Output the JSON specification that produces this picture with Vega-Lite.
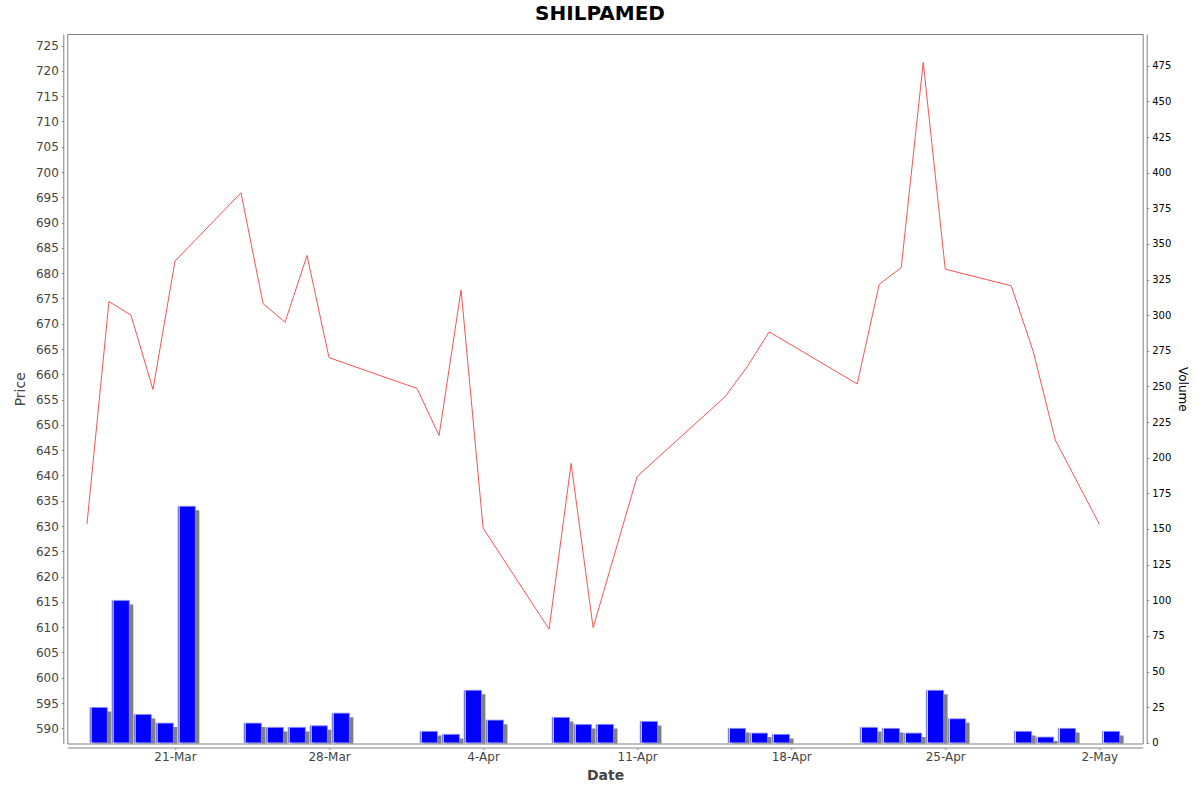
{
  "$schema": "https://vega.github.io/schema/vega-lite/v6.json",
  "autosize": {"type": "none"},
  "padding": {"left": 67.3, "top": 34, "right": 57.3, "bottom": 48.5},
  "width": 1075.4,
  "height": 709.5,
  "background": "white",
  "title": {
    "text": "SHILPAMED",
    "font": "DejaVu Sans",
    "fontSize": 20,
    "fontWeight": "bold",
    "color": "#000000",
    "anchor": "middle",
    "offset": 10,
    "dx": -5
  },
  "config": {
    "font": "DejaVu Sans",
    "view": {"stroke": "#808080", "strokeWidth": 1},
    "axis": {
      "grid": false,
      "domainColor": "#808080",
      "tickColor": "#808080",
      "tickSize": 2,
      "offset": 4,
      "labelFont": "DejaVu Sans",
      "titleFont": "DejaVu Sans"
    }
  },
  "data": {
    "values": [
      {"date": "2021-03-17T00:00:00", "price": 630.4, "volume": 24.8},
      {"date": "2021-03-18T00:00:00", "price": 674.4, "volume": 99.9},
      {"date": "2021-03-19T00:00:00", "price": 671.7, "volume": 19.9},
      {"date": "2021-03-20T00:00:00", "price": 657.0, "volume": 13.8},
      {"date": "2021-03-21T00:00:00", "price": 682.4, "volume": 165.9},
      {"date": "2021-03-24T00:00:00", "price": 695.9, "volume": 13.8},
      {"date": "2021-03-25T00:00:00", "price": 674.0, "volume": 10.8},
      {"date": "2021-03-26T00:00:00", "price": 670.3, "volume": 10.8},
      {"date": "2021-03-27T00:00:00", "price": 683.5, "volume": 11.9},
      {"date": "2021-03-28T00:00:00", "price": 663.3, "volume": 20.8},
      {"date": "2021-04-01T00:00:00", "price": 657.2, "volume": 8.0},
      {"date": "2021-04-02T00:00:00", "price": 647.9, "volume": 5.9},
      {"date": "2021-04-03T00:00:00", "price": 676.7, "volume": 36.8},
      {"date": "2021-04-04T00:00:00", "price": 629.6, "volume": 15.9},
      {"date": "2021-04-07T00:00:00", "price": 609.6, "volume": 17.8},
      {"date": "2021-04-08T00:00:00", "price": 642.4, "volume": 12.9},
      {"date": "2021-04-09T00:00:00", "price": 609.9, "volume": 12.9},
      {"date": "2021-04-11T00:00:00", "price": 639.8, "volume": 15.0},
      {"date": "2021-04-15T00:00:00", "price": 655.6, "volume": 10.1},
      {"date": "2021-04-16T00:00:00", "price": 661.5, "volume": 6.8},
      {"date": "2021-04-17T00:00:00", "price": 668.4, "volume": 5.9},
      {"date": "2021-04-21T00:00:00", "price": 658.1, "volume": 10.8},
      {"date": "2021-04-22T00:00:00", "price": 677.8, "volume": 10.1},
      {"date": "2021-04-23T00:00:00", "price": 681.1, "volume": 6.8},
      {"date": "2021-04-24T00:00:00", "price": 721.7, "volume": 36.8},
      {"date": "2021-04-25T00:00:00", "price": 680.8, "volume": 16.8},
      {"date": "2021-04-28T00:00:00", "price": 677.5, "volume": 8.0},
      {"date": "2021-04-29T00:00:00", "price": 664.5, "volume": 4.0},
      {"date": "2021-04-30T00:00:00", "price": 647.0, "volume": 10.1},
      {"date": "2021-05-02T00:00:00", "price": 630.4, "volume": 8.0}
    ]
  },
  "encoding": {
    "x": {
      "field": "date",
      "type": "temporal",
      "scale": {
        "domain": [
          {"year": 2021, "month": 3, "date": 16, "hours": 2, "minutes": 33},
          {"year": 2021, "month": 5, "date": 3, "hours": 23, "minutes": 20}
        ],
        "nice": false,
        "padding": 0
      },
      "axis": {
        "title": "Date",
        "format": "%-d-%b",
        "values": [
          {"year": 2021, "month": 3, "date": 21},
          {"year": 2021, "month": 3, "date": 28},
          {"year": 2021, "month": 4, "date": 4},
          {"year": 2021, "month": 4, "date": 11},
          {"year": 2021, "month": 4, "date": 18},
          {"year": 2021, "month": 4, "date": 25},
          {"year": 2021, "month": 5, "date": 2}
        ],
        "labelFontSize": 12,
        "labelColor": "#444444",
        "labelPadding": 2,
        "titleFontSize": 14,
        "titleFontWeight": "bold",
        "titleColor": "#444444",
        "titlePadding": 6
      }
    }
  },
  "layer": [
    {
      "encoding": {
        "y": {
          "field": "volume",
          "type": "quantitative",
          "scale": {"domain": [-0.5, 497.3], "nice": false, "zero": false},
          "axis": {
            "orient": "right",
            "title": "Volume",
            "values": [0, 25, 50, 75, 100, 125, 150, 175, 200, 225, 250, 275, 300, 325, 350, 375, 400, 425, 450, 475],
            "labelFontSize": 10,
            "labelColor": "#000000",
            "labelPadding": 3,
            "titleFontSize": 12,
            "titleFontWeight": "normal",
            "titleColor": "#000000",
            "titlePadding": 5
          }
        }
      },
      "layer": [
        {
          "mark": {"type": "bar", "width": 17.3, "xOffset": 15.7, "yOffset": 4, "clip": true, "color": "#808080"}
        },
        {
          "mark": {"type": "bar", "width": 17.3, "xOffset": 11.7, "color": "#0000ff", "stroke": "#8c8cff", "strokeWidth": 0.8}
        },
        {
          "mark": {"type": "rule", "xOffset": 4.2, "color": "#ffffff", "strokeWidth": 0.9},
          "encoding": {"y2": {"datum": 0}}
        }
      ]
    },
    {
      "mark": {"type": "line", "color": "#ff5050", "strokeWidth": 1},
      "encoding": {
        "y": {
          "field": "price",
          "type": "quantitative",
          "scale": {"domain": [587.0, 727.3], "nice": false, "zero": false},
          "axis": {
            "orient": "left",
            "title": "Price",
            "values": [590, 595, 600, 605, 610, 615, 620, 625, 630, 635, 640, 645, 650, 655, 660, 665, 670, 675, 680, 685, 690, 695, 700, 705, 710, 715, 720, 725],
            "labelFontSize": 12,
            "labelColor": "#444444",
            "labelPadding": 3,
            "titleFontSize": 14,
            "titleFontWeight": "normal",
            "titleColor": "#444444",
            "titlePadding": 8
          }
        }
      }
    }
  ],
  "resolve": {"scale": {"y": "independent"}}
}
